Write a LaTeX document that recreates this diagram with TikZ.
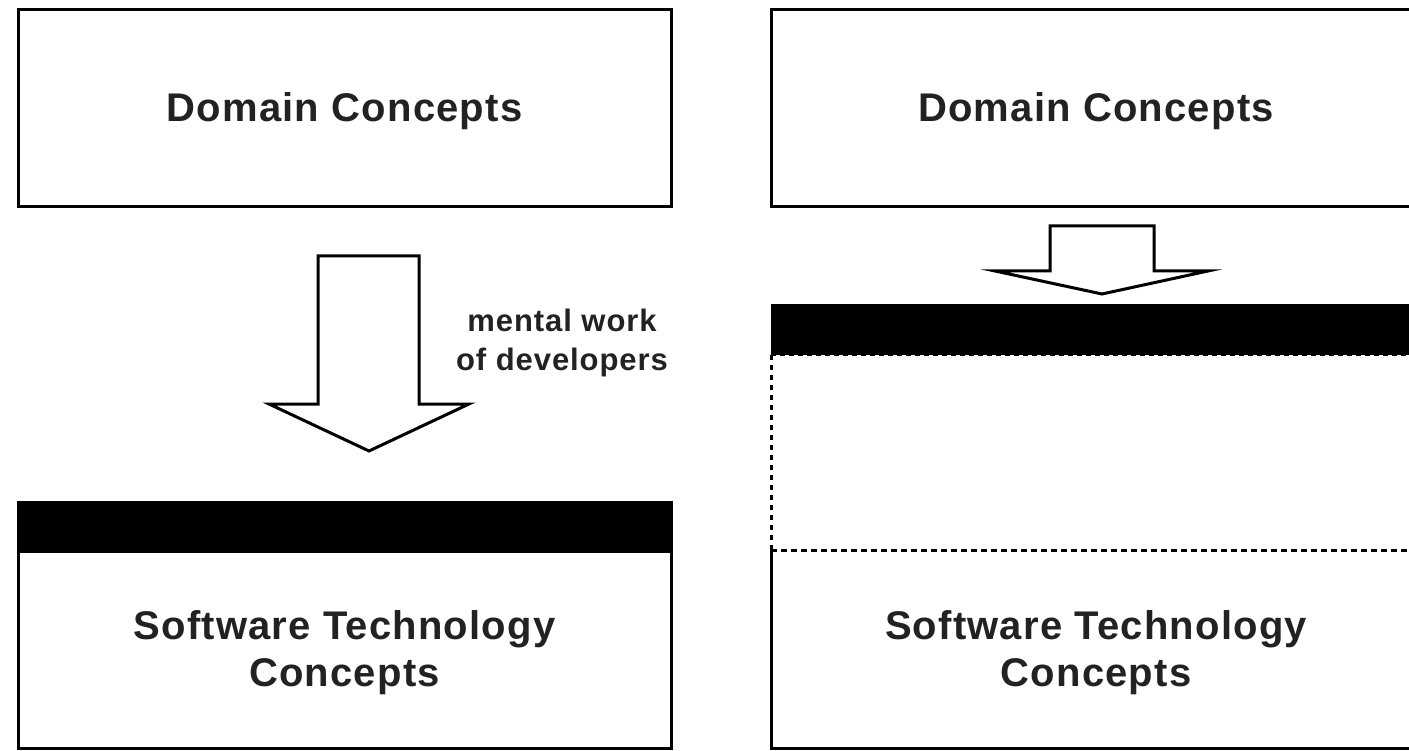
\documentclass[tikz,border=0pt]{standalone}
\usepackage{fontspec}
\setmainfont{Liberation Sans}[LetterSpace=3]
\definecolor{txt}{HTML}{222222}
\begin{document}
\begin{tikzpicture}[x=1pt,y=-1pt,
  box/.style={draw=black,line width=3pt,inner sep=0pt,outer sep=0pt},
  lbl/.style={text=txt,font=\fontsize{40}{47}\selectfont\bfseries,align=center},
  side/.style={text=txt,font=\fontsize{31}{39}\selectfont\bfseries,align=center},
  bigarrow/.style={draw=black,line width=3pt,fill=white,line join=miter},
  band/.style={fill=black}]
\useasboundingbox (0,0) rectangle (1409,751);

% ---------- left panel ----------
\node[box,minimum width=653pt,minimum height=197pt] (ldom) at (344.5,108.5) {};
\node[lbl] (ldomt) at (344.5,111) {Domain Concepts};

\node[box,minimum width=653pt,minimum height=246pt] (lsw) at (344.5,625) {};
\fill[band] (lsw.north west) rectangle ([yshift=-51pt]lsw.north east);
\node[lbl] (lswt) at (344.5,653) {Software Technology\\Concepts};

\draw[bigarrow] (318,256) -- (419,256) -- (419,404) -- (469,404) -- (369,451)
   -- (269,404) -- (318,404) -- cycle;
\node[side] (lab) at (562,343) {mental work\\of developers};

% ---------- right panel ----------
\coordinate (rtl) at (771,10);
\coordinate (rbl) at (771,207);
\node[lbl] (rdomt) at (1096,111) {Domain Concepts};
\draw[line width=3pt] (1412,10) -- (rtl) -- (rbl) -- (1412,207);

\draw[bigarrow] (1050,226) -- (1154,226) -- (1154,271) -- (1208,271) -- (1102,294)
   -- (995,271) -- (1050,271) -- cycle;

\coordinate (bandtl) at (771,304);
\coordinate (bandbr) at (1412,355);
\fill[band] (bandtl) rectangle (bandbr);
\draw[line width=3pt,dash pattern=on 5pt off 4pt] (771,355) -- (1412,355);

\coordinate (swtl) at (771,550);
\coordinate (swbl) at (771,748);
\draw[line width=3pt,dash pattern=on 5pt off 5pt] (771,355) -- (swtl);
\draw[line width=3pt,dash pattern=on 6pt off 4pt] (swtl) -- (1412,550);
\draw[line width=3pt] (swtl) -- (swbl) -- (1412,748);
\node[lbl] (rswt) at (1096,653) {Software Technology\\Concepts};
\end{tikzpicture}
\end{document}
